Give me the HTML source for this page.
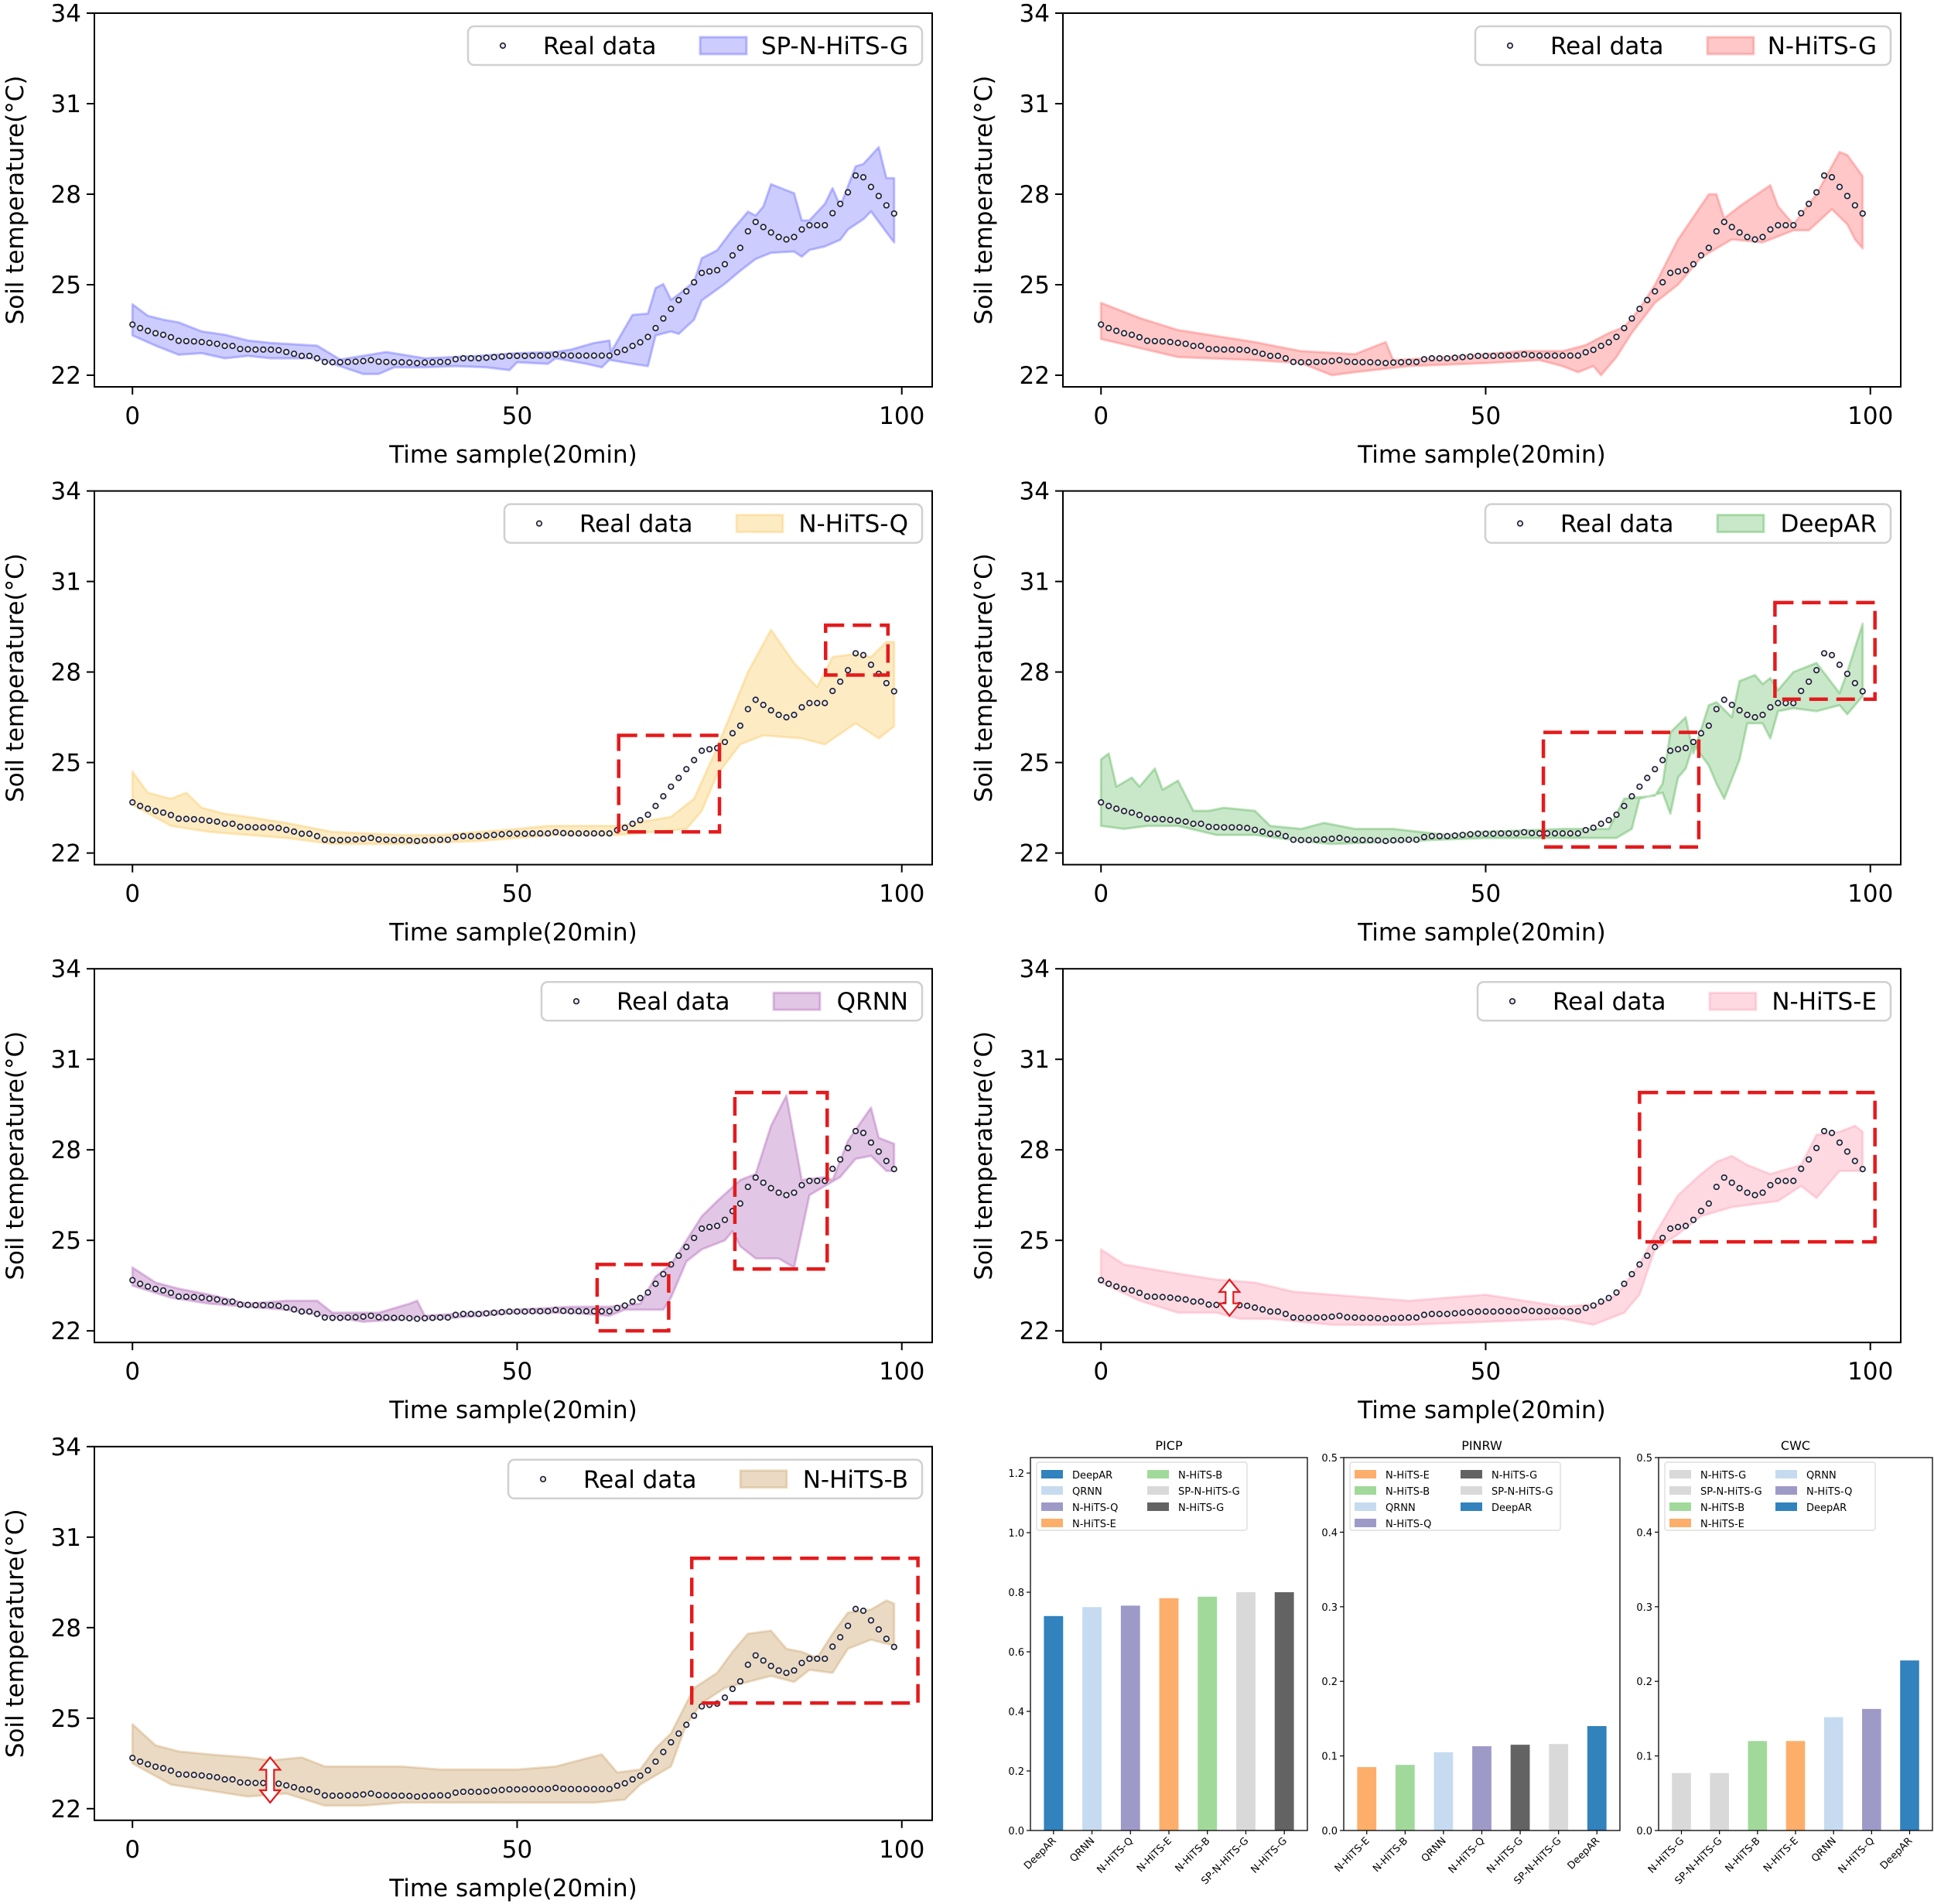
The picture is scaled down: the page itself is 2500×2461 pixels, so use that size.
<!DOCTYPE html>
<html><head><meta charset="utf-8"><style>
html,body{margin:0;padding:0;background:#fff}
svg{display:block;font-family:"DejaVu Sans","Liberation Sans",sans-serif}
</style></head><body>
<svg id="c" width="2500" height="2461" viewBox="0 0 2500 2461" xmlns="http://www.w3.org/2000/svg"></svg>
<script>
// ---------- data ----------
const realData=[23.68,23.56,23.47,23.39,23.34,23.26,23.14,23.13,23.12,23.10,23.07,23.04,22.97,22.97,22.87,22.86,22.85,22.85,22.85,22.83,22.77,22.71,22.64,22.64,22.56,22.44,22.43,22.43,22.44,22.45,22.47,22.50,22.45,22.44,22.43,22.43,22.42,22.40,22.42,22.43,22.44,22.44,22.53,22.56,22.56,22.56,22.58,22.60,22.62,22.64,22.64,22.64,22.65,22.65,22.65,22.69,22.66,22.65,22.65,22.65,22.65,22.65,22.65,22.76,22.84,22.97,23.09,23.27,23.56,23.88,24.20,24.49,24.78,25.08,25.39,25.44,25.48,25.68,25.97,26.22,26.77,27.08,26.91,26.73,26.58,26.50,26.58,26.83,26.97,26.97,26.97,27.37,27.68,28.06,28.62,28.56,28.24,27.94,27.63,27.36];
const spUpper=[[0,24.35],[2,23.97],[4,23.84],[6,23.75],[9,23.45],[12,23.34],[15,23.15],[18,23.07],[24,22.98],[27,22.52],[33,22.77],[38,22.56],[45,22.64],[50,22.73],[55,22.77],[57,22.85],[60,23.07],[62,23.15],[62.2,22.77],[65,24.0],[67,24.04],[68,24.89],[69,25.02],[70,24.5],[71,24.68],[73,25.1],[74,25.88],[76,26.14],[78,26.82],[80,27.42],[81,27.29],[82,27.59],[83,28.33],[86,28.03],[87,27.13],[88,27.13],[90,27.68],[91,28.2],[92,27.6],[94,28.92],[95,29.0],[97,29.56],[98,28.53],[99,28.53]];
const spLower=[[0,23.32],[3,22.98],[6,22.68],[9,22.73],[12,22.56],[15,22.64],[18,22.56],[24,22.56],[27,22.30],[30,22.04],[32,22.04],[34,22.26],[38,22.26],[42,22.30],[46,22.26],[49,22.17],[50,22.43],[54,22.38],[55,22.56],[59,22.38],[61,22.26],[62,22.51],[65,22.38],[67,22.30],[68,23.32],[70,23.45],[71,23.37],[73,23.84],[74,24.48],[77,25.03],[79,25.46],[81,25.85],[83,26.06],[86,26.10],[87,25.93],[88,26.15],[90,26.27],[92,26.49],[93,26.83],[95,27.17],[96,27.43],[98,26.74],[99,26.40]];
const gUpper=[[0,24.4],[5,23.9],[10,23.5],[20,23.1],[26,22.8],[33,22.7],[37,23.1],[38,22.5],[45,22.6],[55,22.8],[60,22.8],[63,23.0],[66,23.4],[68,23.6],[70,24.2],[72,25.0],[75,26.5],[79,28.0],[80,28.0],[81,27.2],[83,27.6],[87,28.3],[88,27.6],[90,27.0],[93,28.0],[96,29.4],[97,29.3],[99,28.6]];
const gLower=[[0,23.2],[5,22.9],[10,22.6],[20,22.5],[26,22.4],[30,22.0],[33,22.1],[40,22.3],[50,22.4],[57,22.5],[60,22.3],[62,22.1],[64,22.3],[65,22.0],[67,22.6],[69,23.4],[72,24.4],[75,25.0],[78,25.9],[82,26.5],[86,26.4],[88,26.6],[90,26.8],[92,26.8],[95,27.5],[97,27.0],[98,26.5],[99,26.2]];
const qUpper=[[0,24.7],[2,24.0],[5,23.8],[7,24.0],[9,23.5],[12,23.3],[15,23.2],[20,23.0],[26,22.7],[35,22.6],[40,22.6],[50,22.8],[54,22.9],[60,22.9],[63,22.9],[70,23.2],[73,23.8],[76,25.5],[80,28.0],[83,29.4],[86,28.3],[89,27.5],[91,28.5],[94,28.6],[96,28.5],[98,29.0],[99,29.0]];
const qLower=[[0,23.6],[5,22.9],[10,22.7],[20,22.5],[26,22.3],[35,22.3],[45,22.4],[55,22.6],[63,22.6],[68,22.7],[72,22.8],[74,23.4],[76,24.6],[79,25.6],[82,25.9],[87,25.8],[90,25.6],[94,26.3],[97,25.8],[99,26.2]];
const dUpper=[[0,25.1],[1,25.3],[2,24.2],[4,24.5],[5,24.2],[7,24.8],[8,24.1],[10,24.4],[12,23.4],[14,23.4],[16,23.5],[20,23.4],[22,22.9],[26,22.8],[29,23.0],[33,22.8],[38,22.8],[45,22.6],[50,22.7],[60,22.8],[66,22.8],[68,23.8],[72,23.9],[73,24.3],[74,26.0],[76,26.5],[77,25.3],[79,26.9],[80,27.0],[82,26.5],[83,27.7],[85,27.9],[86,27.6],[87,27.8],[88,27.4],[90,28.0],[93,28.3],[96,27.3],[97,28.0],[99,29.6]];
const dLower=[[0,22.9],[3,22.8],[6,22.9],[10,22.9],[15,22.6],[20,22.6],[26,22.4],[30,22.3],[40,22.4],[50,22.5],[67,22.5],[69,22.8],[70,23.8],[73,24.0],[74,23.3],[75,24.5],[76,24.8],[77,25.6],[79,24.9],[80,24.3],[81,23.8],[83,25.1],[84,26.3],[86,26.3],[87,25.8],[88,26.7],[90,26.8],[93,26.7],[96,26.9],[97,26.6],[99,27.2]];
const rUpper=[[0,24.1],[3,23.6],[6,23.4],[10,23.2],[15,22.9],[20,23.0],[24,23.0],[26,22.6],[32,22.6],[36,22.9],[37,23.0],[38,22.5],[50,22.7],[57,22.8],[62,22.8],[66,22.9],[68,23.8],[70,24.2],[72,25.0],[74,25.8],[76,26.3],[79,27.0],[81,27.2],[83,28.8],[85,29.8],[87,27.0],[90,27.1],[91,27.0],[93,28.3],[96,29.4],[97,28.4],[99,28.2]];
const rLower=[[0,23.5],[5,23.1],[10,22.9],[15,22.8],[20,22.7],[25,22.5],[30,22.3],[36,22.4],[40,22.4],[50,22.6],[57,22.6],[62,22.5],[64,22.7],[69,22.7],[70,23.1],[72,24.3],[74,24.7],[77,25.0],[78,25.3],[79,24.8],[81,24.4],[84,24.4],[86,24.1],[88,26.5],[90,26.8],[92,27.1],[94,27.7],[96,27.8],[98,27.3],[99,27.3]];
const eUpper=[[0,24.7],[3,24.2],[10,23.9],[15,23.7],[20,23.6],[25,23.3],[30,23.2],[40,23.0],[50,23.2],[55,23.0],[60,22.8],[65,22.9],[67,23.2],[70,24.2],[72,25.2],[75,26.5],[78,27.2],[80,27.6],[82,27.8],[84,27.5],[87,27.2],[91,27.5],[93,28.5],[96,28.6],[98,28.8],[99,28.6]];
const eLower=[[0,23.6],[5,23.0],[10,22.6],[15,22.6],[18,22.4],[22,22.4],[30,22.2],[40,22.2],[50,22.3],[60,22.4],[64,22.2],[68,22.6],[70,23.2],[72,24.7],[75,25.2],[78,25.8],[82,26.1],[85,26.2],[88,26.3],[91,26.8],[93,26.4],[96,27.3],[99,27.3]];
const bUpper=[[0,24.8],[3,24.1],[6,23.9],[10,23.8],[15,23.7],[18,23.6],[22,23.7],[25,23.4],[30,23.4],[35,23.4],[40,23.3],[50,23.3],[55,23.4],[58,23.6],[61,23.8],[63,23.2],[66,23.3],[68,24.0],[70,24.5],[73,26.0],[76,26.5],[78,27.2],[80,27.8],[83,27.9],[85,27.3],[87,27.2],[89,27.0],[91,27.8],[93,28.5],[96,28.6],[98,28.9],[99,28.8]];
const bLower=[[0,23.5],[5,22.8],[10,22.6],[15,22.4],[20,22.5],[25,22.1],[30,22.1],[35,22.2],[40,22.2],[60,22.2],[64,22.3],[66,22.8],[70,23.4],[72,24.8],[74,25.5],[77,26.0],[80,26.2],[83,26.4],[86,26.2],[88,26.6],[91,26.5],[93,27.3],[96,27.6],[99,27.4]];
const boxesQ=[[63.2,76.3,22.7,25.9],[90.1,98.2,27.9,29.55]];
const boxesD=[[57.5,77.7,22.2,26.0],[87.6,100.6,27.1,30.3]];
const boxesR=[[60.4,69.7,22.0,24.2],[78.3,90.3,24.05,29.9]];
const boxesE=[[70,100.6,24.95,29.9]];
const boxesB=[[72.7,102.1,25.5,30.3]];
const arrowE=[16.7,22.5,23.7];
const arrowB=[17.9,22.2,23.7];
const xTicks=[0,50,100];
const yTicks=[22,25,28,31,34];
const picpCats=["DeepAR","QRNN","N-HiTS-Q","N-HiTS-E","N-HiTS-B","SP-N-HiTS-G","N-HiTS-G"];
const picpVals=[0.72,0.75,0.755,0.78,0.785,0.80,0.80];
const pinrwCats=["N-HiTS-E","N-HiTS-B","QRNN","N-HiTS-Q","N-HiTS-G","SP-N-HiTS-G","DeepAR"];
const pinrwVals=[0.085,0.088,0.105,0.113,0.115,0.116,0.140];
const cwcCats=["N-HiTS-G","SP-N-HiTS-G","N-HiTS-B","N-HiTS-E","QRNN","N-HiTS-Q","DeepAR"];
const cwcVals=[0.077,0.077,0.12,0.12,0.152,0.163,0.228];
const picpTicks=[0,0.2,0.4,0.6,0.8,1.0,1.2];
const smallTicks=[0,0.1,0.2,0.3,0.4,0.5];

const barColor={"DeepAR":"#3182bd","QRNN":"#c6dbef","N-HiTS-Q":"#9e9ac8","N-HiTS-E":"#fdae6b","N-HiTS-B":"#a1d99b","SP-N-HiTS-G":"#d9d9d9","N-HiTS-G":"#636363"};
const NS="http://www.w3.org/2000/svg";
const svg=document.getElementById('c');
function mk(tag,attrs,parent){const e=document.createElementNS(NS,tag);for(const k in attrs)e.setAttribute(k,attrs[k]);(parent||svg).appendChild(e);return e;}

const panels=[
 {name:"sp-n-hits-g",label:"SP-N-HiTS-G",col:0,row:0,up:spUpper,lo:spLower,fill:"rgba(0,0,255,0.2)",edge:"rgba(80,80,255,0.35)",legL:605,boxes:[],arrow:null},
 {name:"n-hits-g",label:"N-HiTS-G",col:1,row:0,up:gUpper,lo:gLower,fill:"rgba(255,0,0,0.22)",edge:"rgba(255,60,60,0.28)",legL:1907,boxes:[],arrow:null},
 {name:"n-hits-q",label:"N-HiTS-Q",col:0,row:1,up:qUpper,lo:qLower,fill:"rgba(250,190,60,0.3)",edge:"rgba(250,190,60,0.3)",legL:652,boxes:boxesQ,arrow:null},
 {name:"deepar",label:"DeepAR",col:1,row:1,up:dUpper,lo:dLower,fill:"rgba(40,160,40,0.25)",edge:"rgba(40,160,40,0.3)",legL:1920,boxes:boxesD,arrow:null},
 {name:"qrnn",label:"QRNN",col:0,row:2,up:rUpper,lo:rLower,fill:"rgba(150,50,160,0.28)",edge:"rgba(150,50,160,0.28)",legL:700,boxes:boxesR,arrow:null},
 {name:"n-hits-e",label:"N-HiTS-E",col:1,row:2,up:eUpper,lo:eLower,fill:"rgba(250,120,150,0.28)",edge:"rgba(250,120,150,0.25)",legL:1910,boxes:boxesE,arrow:arrowE},
 {name:"n-hits-b",label:"N-HiTS-B",col:0,row:3,up:bUpper,lo:bLower,fill:"rgba(190,140,70,0.32)",edge:"rgba(190,140,70,0.28)",legL:657,boxes:boxesB,arrow:arrowB}
];
const XMIN=-4.95,XMAX=103.95,YMIN=21.615,YMAX=34;
panels.forEach(p=>{
 const L=p.col?1374:122,T=17+p.row*617.6,W=1083,H=483;
 const g=mk('g',{});
 
 
 const sx=v=>L+(v-XMIN)/(XMAX-XMIN)*W, sy=v=>T+(YMAX-v)/(YMAX-YMIN)*H;
 let d='M'+p.up.map(q=>sx(q[0]).toFixed(1)+','+sy(q[1]).toFixed(1)).join('L');
 d+='L'+p.lo.slice().reverse().map(q=>sx(q[0]).toFixed(1)+','+sy(q[1]).toFixed(1)).join('L')+'Z';
 const band=mk('path',{d:d,fill:p.fill,stroke:p.edge,'stroke-width':3,'stroke-linejoin':'round'},g);
 
 
 realData.forEach((v,i)=>{const c=mk('circle',{cx:sx(i),cy:sy(v),r:3.3,fill:'#e8e8f0',stroke:'#1a1a2a','stroke-width':1.6},g);
  
  });
 p.boxes.forEach(b=>{const r=mk('rect',{x:sx(b[0]),y:sy(b[3]),width:sx(b[1])-sx(b[0]),height:sy(b[2])-sy(b[3]),fill:'none',stroke:'#e41a1c','stroke-width':4.5,'stroke-dasharray':'24,11'},g);
  
  });
 if(p.arrow){const ax=sx(p.arrow[0]),y0=sy(p.arrow[1]),y1=sy(p.arrow[2]);
  const a=mk('path',{d:`M${ax},${y1} l-13,16 h8 v${y0-y1-32} h-8 l13,16 l13,-16 h-8 v${-(y0-y1-32)} h8 z`,fill:'#fff',stroke:'#e41a1c','stroke-width':2.2},g);
  
  }
 const fr=mk('rect',{x:L,y:T,width:W,height:H,fill:'none',stroke:'#000','stroke-width':2},g);
 
 
 xTicks.forEach(t=>{mk('line',{x1:sx(t),x2:sx(t),y1:T+H,y2:T+H+10,stroke:'#000','stroke-width':2},g);
  const tx=mk('text',{x:sx(t),y:T+H+48,'font-size':31,'text-anchor':'middle'},g);tx.textContent=t;
  
  });
 yTicks.forEach(t=>{mk('line',{x1:L-10,x2:L,y1:sy(t),y2:sy(t),stroke:'#000','stroke-width':2},g);
  const tx=mk('text',{x:L-17,y:sy(t)+11,'font-size':31,'text-anchor':'end'},g);tx.textContent=t;
  
  });
 const xl=mk('text',{x:L+W/2,y:T+H+98,'font-size':31,'text-anchor':'middle'},g);xl.textContent='Time sample(20min)';
 
 
 const yl=mk('text',{x:0,y:0,'font-size':31,'text-anchor':'middle',transform:`translate(${L-92},${T+H/2}) rotate(-90)`},g);yl.textContent='Soil temperature(°C)';
 
 
 const R=L+W-13, lT=T+17, lw=R-p.legL;
 const lg=mk('g',{},g);
 
 
 mk('rect',{x:p.legL,y:lT,width:lw,height:50,rx:8,fill:'#fff','fill-opacity':0.8,stroke:'#d0d0d0','stroke-width':2.5},lg);
 mk('circle',{cx:p.legL+45,cy:lT+25,r:3.3,fill:'#e8e8f0',stroke:'#1a1a2a','stroke-width':1.6},lg);
 const t1=mk('text',{x:p.legL+97,y:lT+36,'font-size':31},lg);t1.textContent='Real data';
 mk('rect',{x:p.legL+300,y:lT+14,width:60,height:22,fill:p.fill,stroke:p.edge,'stroke-width':3},lg);
 const t2=mk('text',{x:R-18,y:lT+36,'font-size':31,'text-anchor':'end'},lg);t2.textContent=p.label;
});

const bars=[
 {name:"picp",title:"PICP",L:1332,R:1690,cats:picpCats,vals:picpVals,ymax:1.252,ticks:picpTicks,legCats:["DeepAR","QRNN","N-HiTS-Q","N-HiTS-E","N-HiTS-B","SP-N-HiTS-G","N-HiTS-G"],over:{}},
 {name:"pinrw",title:"PINRW",L:1737,R:2094,cats:pinrwCats,vals:pinrwVals,ymax:0.5,ticks:smallTicks,legCats:["N-HiTS-E","N-HiTS-B","QRNN","N-HiTS-Q","N-HiTS-G","SP-N-HiTS-G","DeepAR"],over:{}},
 {name:"cwc",title:"CWC",L:2144,R:2498,cats:cwcCats,vals:cwcVals,ymax:0.5,ticks:smallTicks,legCats:["N-HiTS-G","SP-N-HiTS-G","N-HiTS-B","N-HiTS-E","QRNN","N-HiTS-Q","DeepAR"],over:{"N-HiTS-G":"#d9d9d9"}}
];
bars.forEach(b=>{
 const T=1884,B=2366,W=b.R-b.L;
 const col=c=>b.over[c]||barColor[c];
 const g=mk('g',{});
 
 
 const sx=i=>b.L+(i+0.6)/7.2*W, sy=v=>B-v/b.ymax*(B-T);
 b.vals.forEach((v,i)=>{const r=mk('rect',{x:sx(i)-W/7.2*0.25,y:sy(v),width:W/7.2*0.5,height:B-sy(v),fill:col(b.cats[i])},g);
  
  
  mk('line',{x1:sx(i),x2:sx(i),y1:B,y2:B+5,stroke:'#000','stroke-width':1.2},g);
  const t=mk('text',{x:0,y:0,'font-size':13,'text-anchor':'end',transform:`translate(${sx(i)+4},${B+14}) rotate(-45)`},g);t.textContent=b.cats[i];
  
  });
 b.ticks.forEach(t=>{mk('line',{x1:b.L-5,x2:b.L,y1:sy(t),y2:sy(t),stroke:'#000','stroke-width':1.2},g);
  const tx=mk('text',{x:b.L-8,y:sy(t)+5,'font-size':13,'text-anchor':'end'},g);tx.textContent=t.toFixed(1);
  
  });
 const fr=mk('rect',{x:b.L,y:T,width:W,height:B-T,fill:'none',stroke:'#000','stroke-width':1.3},g);
 
 
 const tt=mk('text',{x:b.L+W/2,y:T-10,'font-size':16,'text-anchor':'middle'},g);tt.textContent=b.title;
 
 
 const lg=mk('g',{},g);
 
 
 const lx=b.L+8,ly=T+6;
 mk('rect',{x:lx,y:ly,width:272,height:88,rx:3,fill:'#fff',stroke:'#d8d8d8','stroke-width':1.2},lg);
 b.legCats.forEach((c,k)=>{const cc=k<4?0:1,row=k<4?k:k-4;
  const ex=lx+6+cc*137,ey=ly+10+row*21;
  mk('rect',{x:ex,y:ey,width:28,height:11,fill:col(c)},lg);
  const t=mk('text',{x:ex+40,y:ey+11,'font-size':13},lg);t.textContent=c;});
});
</script>
</body></html>
